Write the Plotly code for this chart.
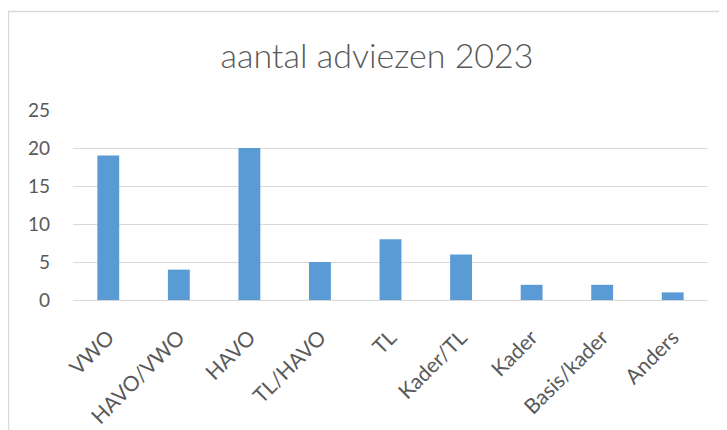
import plotly.graph_objects as go

categories = ["VWO", "HAVO/VWO", "HAVO", "TL/HAVO", "TL", "Kader/TL", "Kader", "Basis/kader", "Anders"]
values = [19, 4, 20, 5, 8, 6, 2, 2, 1]
y_ticks = [0, 5, 10, 15, 20, 25]

# page body has an 8px margin, so the figure starts at (8, 8) in the window
OFF = 8
W, H = 727 - OFF, 430 - OFF
L, R, T, B = 73 - OFF, 19, 110 - OFF, 130
pw, ph = W - L - R, H - T - B

def px_x(p):
    return (p - OFF - L) / pw

def px_y(p):
    return (H - B - (p - OFF)) / ph

fig = go.Figure(go.Bar(
    x=categories, y=values,
    marker=dict(color="#5B9BD5", line=dict(width=0)),
    width=0.31,
))

font = "Lato, 'Open Sans', sans-serif"
fig.update_layout(
    width=W, height=H,
    margin=dict(l=L, r=R, t=T, b=B, autoexpand=False),
    paper_bgcolor="white", plot_bgcolor="white",
    showlegend=False,
    title=dict(text="aantal adviezen 2023", x=(377 - OFF) / W, xanchor="center",
               y=1 - (56 - OFF) / H, yanchor="middle",
               font=dict(family=font, size=34, weight=300, color="#595959")),
    xaxis=dict(showgrid=False, tickangle=-45, ticks="", showline=True, automargin=False,
               linecolor="#D9D9D9", linewidth=1, ticklabelstandoff=16,
               tickfont=dict(family=font, size=21, color="#595959")),
    yaxis=dict(range=[0, 25], tickvals=y_ticks, showgrid=True, automargin=False,
               gridcolor="#D9D9D9", gridwidth=1, zeroline=False,
               ticks="", ticklabelstandoff=22,
               tickfont=dict(family=font, size=19, color="#595959")),
    shapes=[dict(type="rect", xref="paper", yref="paper",
                 x0=px_x(8.5), x1=px_x(760), y0=px_y(460), y1=px_y(11.5),
                 line=dict(color="#D9D9D9", width=1.5), fillcolor="rgba(0,0,0,0)",
                 layer="below")],
)

fig.write_html("out.html")
